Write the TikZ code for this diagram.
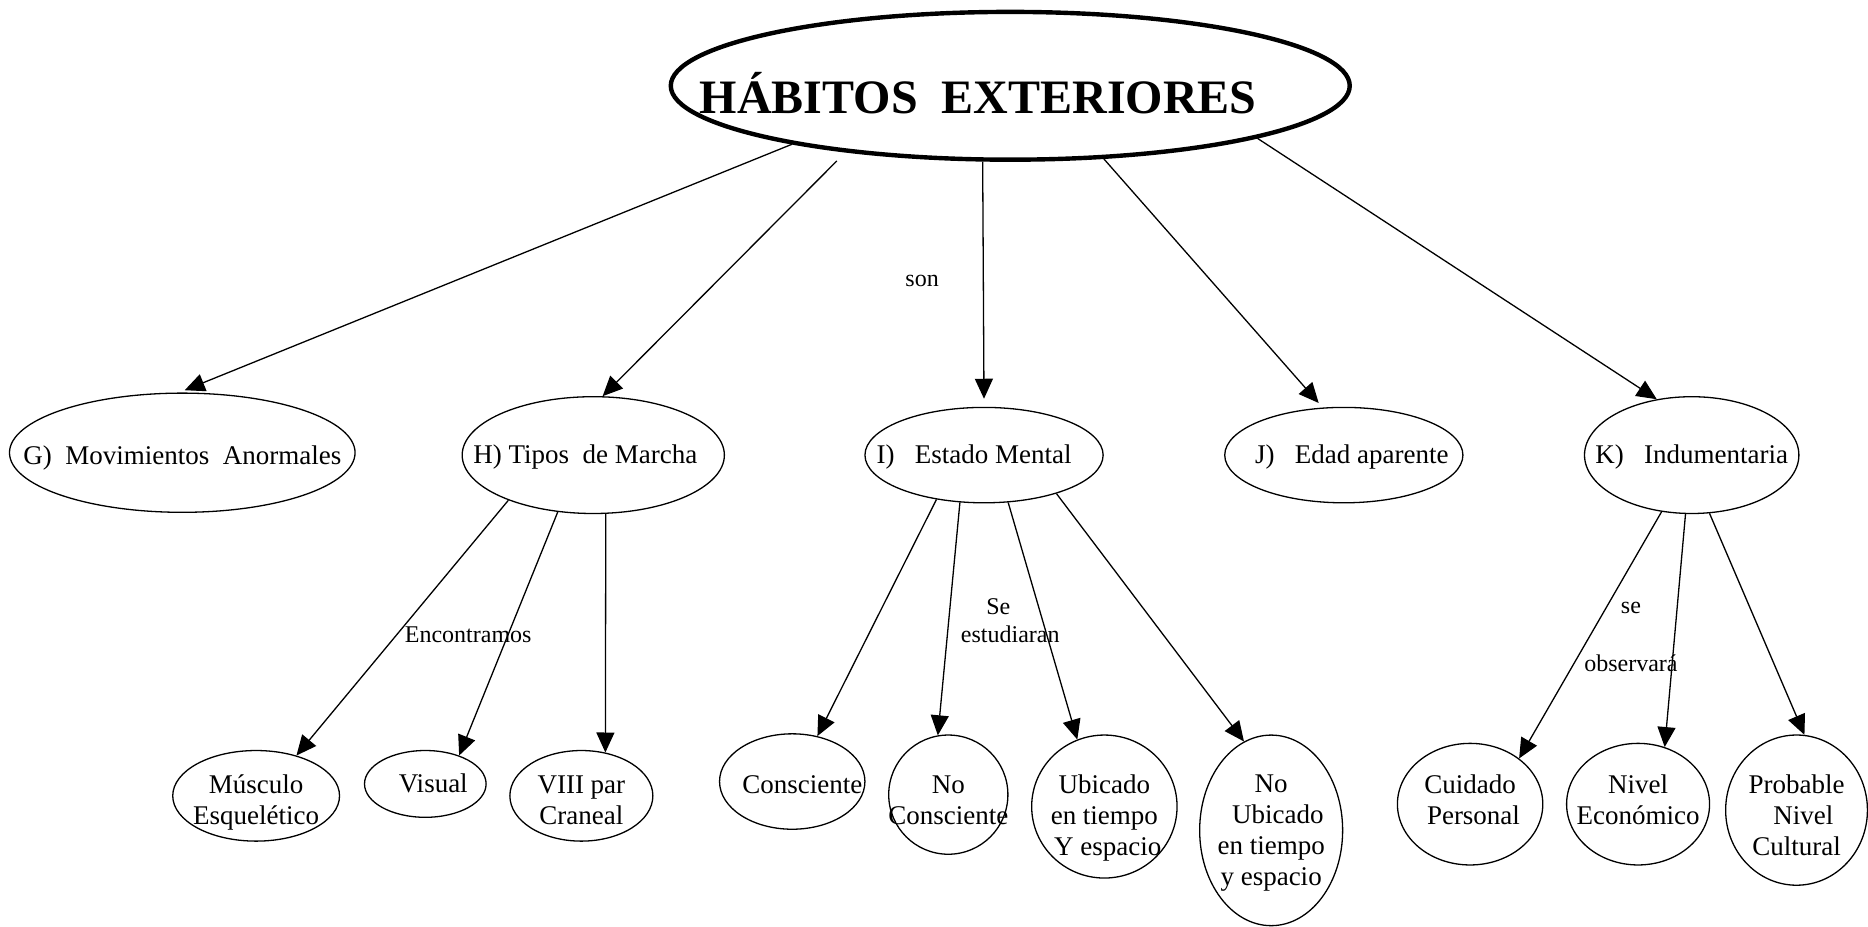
\documentclass[tikz,border=0pt]{standalone}
\usepackage{fontspec}
\setmainfont{Liberation Serif}
\usepackage{tikz}
\usetikzlibrary{arrows.meta}
\usetikzlibrary{shapes.geometric}
\newcommand{\lineas}[2][-4.6pt]{\makebox[0pt]{\smash{\raisebox{#1}{\begin{tabular}{@{}c@{}}#2\end{tabular}}}}}

\begin{document}
\begin{tikzpicture}
	[x=0.5957pt, y=-0.5957pt,
	oval/.style={draw, ellipse, line width=0.65pt, inner sep=0pt, font=\fontsize{13.5}{15.5}\selectfont},
	principal/.style={draw, ellipse, line width=2.2pt, inner sep=0pt},
	titulo/.style={font=\fontsize{24}{28}\selectfont\bfseries},
	flecha/.style={-{Triangle[length=10pt,width=9pt]}, line width=0.65pt},
	rotulo/.style={font=\fontsize{12}{14}\selectfont, align=center}]
	\useasboundingbox (0,0) rectangle (1568,778);

	\node[principal, minimum width=339.5pt, minimum height=73.9pt,
		label={[titulo, xshift=-16pt, yshift=-3.6pt]center:HÁBITOS\ \ EXTERIORES}] (habitos) at (848,72) {};

	\node[oval, minimum width=172.8pt, minimum height=59.6pt] (mov) at (153,380) {\lineas[-6.4pt]{G)\ \ Movimientos\ \ Anormales}};
	\node[oval, minimum width=131.1pt, minimum height=58.4pt] (marcha) at (498,382) {\lineas{H) Tipos\ \ de Marcha\hspace*{8pt}}};
	\node[oval, minimum width=119.1pt, minimum height=47.7pt] (mental) at (826,382) {\lineas{I)\ \ \ Estado Mental\hspace*{10pt}}};
	\node[oval, minimum width=119.1pt, minimum height=47.7pt] (edad) at (1128,382) {\lineas{\hspace*{8pt}J)\ \ \ Edad aparente}};
	\node[oval, minimum width=107.2pt, minimum height=58.4pt] (indum) at (1420,382) {\lineas{K)\ \ \ Indumentaria}};

	\node[oval, minimum width=83.4pt, minimum height=45.3pt] (musculo) at (215,668) {\lineas[-7pt]{Músculo\\Esquelético}};
	\node[oval, minimum width=60.8pt, minimum height=33.4pt] (visual) at (357,658) {\lineas{\hspace*{8pt}Visual}};
	\node[oval, minimum width=71.5pt, minimum height=45.3pt] (craneal) at (488,668) {\lineas[-7pt]{VIII par\\Craneal}};

	\node[oval, minimum width=72.7pt, minimum height=47.7pt] (consc) at (665,656) {\lineas[-6.4pt]{\hspace*{10pt}Consciente}};
	\node[oval, minimum width=59.6pt, minimum height=59.6pt] (nocons) at (796,667) {\lineas[-7.6pt]{No\\Consciente}};
	\node[oval, minimum width=72.7pt, minimum height=71.5pt] (ubic) at (927,677) {\lineas[-9.4pt]{Ubicado\\en tiempo\\\ Y espacio}};
	\node[oval, minimum width=71.5pt, minimum height=95.3pt] (noubic) at (1067,697) {\lineas{No\\\ \ Ubicado\\en tiempo\\y espacio}};

	\node[oval, minimum width=72.7pt, minimum height=60.8pt] (cuidado) at (1234,675) {\lineas[-2.8pt]{Cuidado\\\ Personal}};
	\node[oval, minimum width=71.5pt, minimum height=60.8pt] (nivel) at (1375,675) {\lineas[-2.8pt]{Nivel\\Económico}};
	\node[oval, minimum width=70.9pt, minimum height=75.1pt] (probable) at (1508,680) {\lineas[-7.6pt]{Probable\\\ \ Nivel\\Cultural}};

	\node[rotulo] (son) at (774,236) {son};
	\node[rotulo] (encontramos) at (393,533) {Encontramos};
	\node[rotulo] (estudiaran) at (848,521) {Se\hspace*{12pt}\\estudiaran};
	\node[rotulo] (observara) at (1369,535) {se\\[15pt]observará};

	\draw[flecha, shorten >=3pt] (habitos.195) -- (mov.93);
	\draw[flecha, shorten <=6pt] (habitos.202) -- (marcha.81);
	\draw[flecha, shorten >=4pt] (habitos.250) -- (mental.90);
	\draw[flecha, shorten >=3pt] (habitos.322) -- (edad.114);
	\draw[flecha] (habitos.348) -- (indum.122);

	\draw[flecha] (marcha.208) -- (musculo.45);
	\draw[flecha] (marcha.238) -- (visual.40);
	\draw[flecha] (marcha.282) -- (craneal.61);

	\draw[flecha] (mental.223) -- (consc.61);
	\draw[flecha] (mental.243) -- (nocons.100);
	\draw[flecha] (mental.297) -- (ubic.112);
	\draw[flecha] (mental.332) -- (noubic.107);

	\draw[flecha] (indum.242) -- (cuidado.43);
	\draw[flecha] (indum.264) -- (nivel.65);
	\draw[flecha] (indum.287) -- (probable.84);
\end{tikzpicture}
\end{document}
